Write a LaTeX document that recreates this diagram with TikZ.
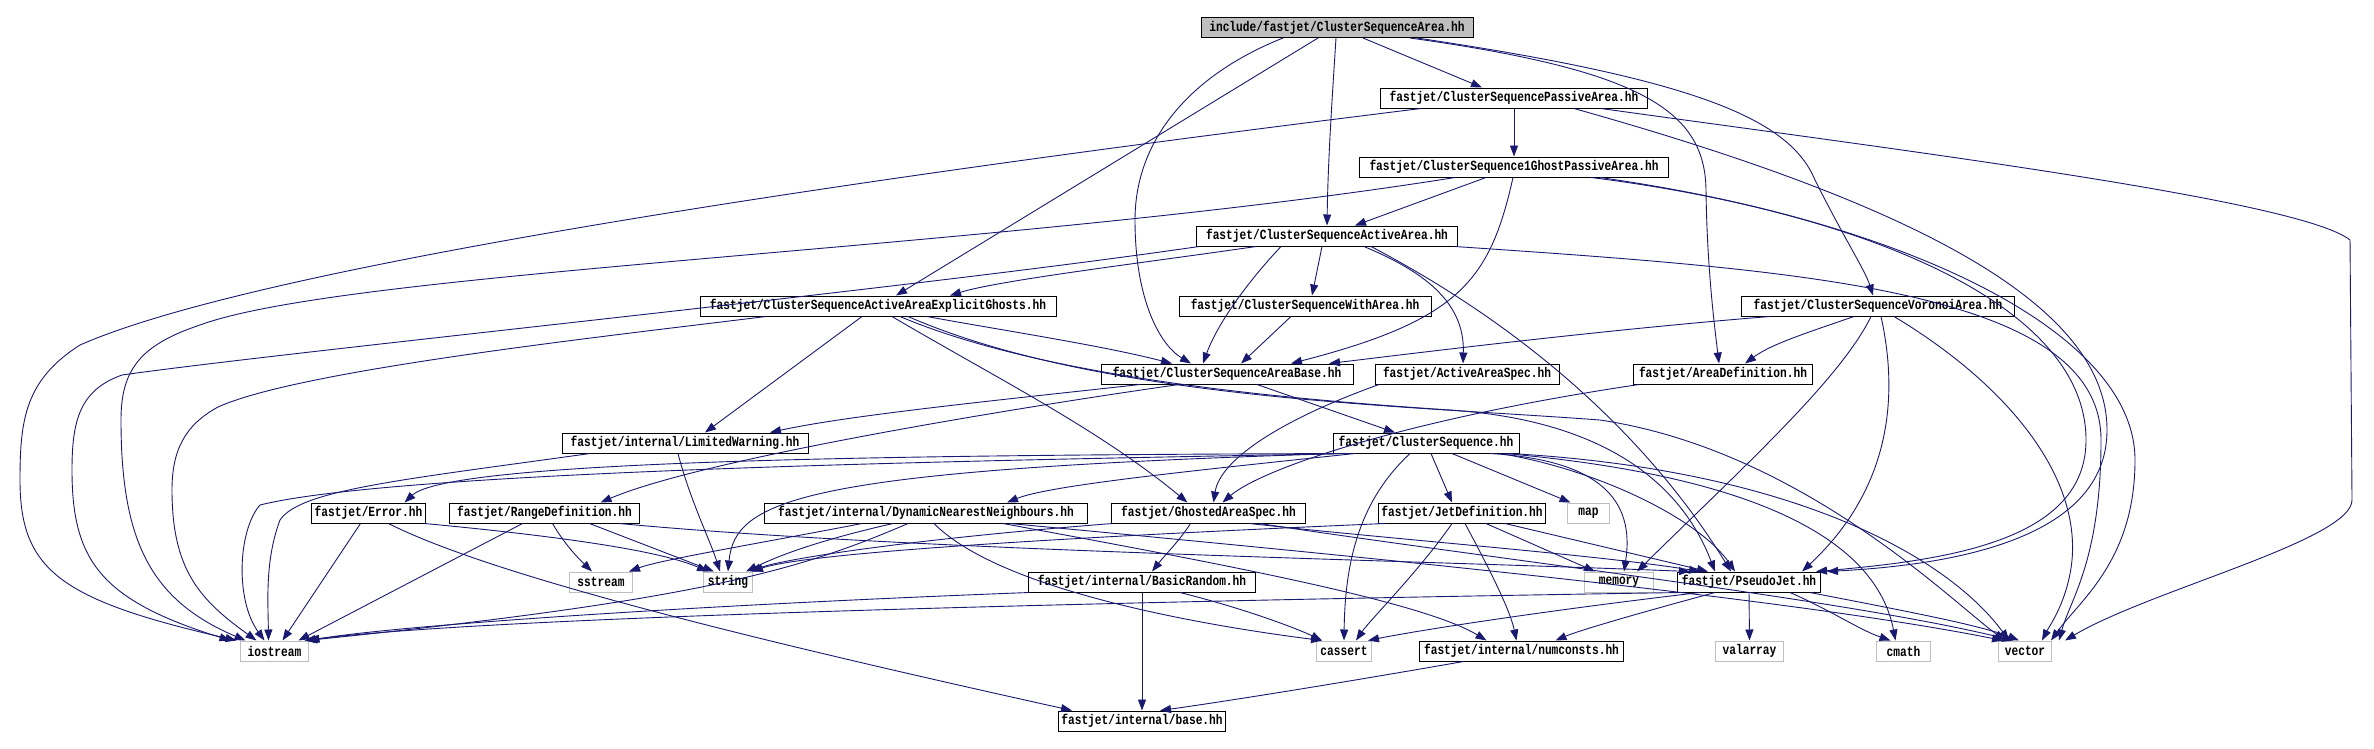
\documentclass[tikz,border=0pt]{standalone}
\usepackage{fontspec}
\usetikzlibrary{arrows.meta}
\newfontfamily\nodefont{Liberation Mono}[FakeStretch=0.8]
\definecolor{edgec}{HTML}{191970}
\definecolor{sysgray}{HTML}{BFBFBF}
\definecolor{rootfill}{HTML}{BFBFBF}
\tikzset{
  box/.style={draw=black, fill=white, line width=1pt, minimum height=20pt, inner xsep=3pt, inner ysep=0pt,
              font=\nodefont\bfseries\fontsize{14}{14}\selectfont},
  sys/.style={box, draw=sysgray},
  edge/.style={draw=edgec, line width=0.9pt, -{Triangle[length=11pt,width=8pt]}},
}
\begin{document}
\begin{tikzpicture}[x=1pt,y=-1pt]
\useasboundingbox (0,0) rectangle (2374,748);
% nodes
\node[box, fill=rootfill, minimum width=272pt] (root) at (1337,27.5) {include/fastjet/ClusterSequenceArea.hh};
\node[box, minimum width=267pt] (passive) at (1514,98) {fastjet/ClusterSequencePassiveArea.hh};
\node[box, minimum width=309pt] (ghost1) at (1514,167) {fastjet/ClusterSequence1GhostPassiveArea.hh};
\node[box, minimum width=261pt] (active) at (1327,236) {fastjet/ClusterSequenceActiveArea.hh};
\node[box, minimum width=356pt] (explicit) at (878,306) {fastjet/ClusterSequenceActiveAreaExplicitGhosts.hh};
\node[box, minimum width=252pt] (witharea) at (1305,306) {fastjet/ClusterSequenceWithArea.hh};
\node[box, minimum width=273pt] (voronoi) at (1878,306) {fastjet/ClusterSequenceVoronoiArea.hh};
\node[box, minimum width=252pt] (areabase) at (1227,374) {fastjet/ClusterSequenceAreaBase.hh};
\node[box, minimum width=184pt] (activespec) at (1467,374) {fastjet/ActiveAreaSpec.hh};
\node[box, minimum width=179pt] (areadef) at (1723,374) {fastjet/AreaDefinition.hh};
\node[box, minimum width=246pt] (limited) at (685,443) {fastjet/internal/LimitedWarning.hh};
\node[box, minimum width=186pt] (cseq) at (1426,443) {fastjet/ClusterSequence.hh};
\node[box, minimum width=114pt] (error) at (368.5,513) {fastjet/Error.hh};
\node[box, minimum width=190pt] (rangedef) at (544.5,513) {fastjet/RangeDefinition.hh};
\node[box, minimum width=323pt] (dnn) at (926,513) {fastjet/internal/DynamicNearestNeighbours.hh};
\node[box, minimum width=194pt] (ghosted) at (1208.5,513) {fastjet/GhostedAreaSpec.hh};
\node[box, minimum width=164pt] (jetdef) at (1462,513) {fastjet/JetDefinition.hh};
\node[sys, minimum width=42pt] (map) at (1588.5,513) {map};
\node[sys, minimum width=63pt] (sstream) at (601,582) {sstream};
\node[sys, minimum width=49pt] (string) at (728,582) {string};
\node[box, minimum width=227pt] (basicrandom) at (1142,582) {fastjet/internal/BasicRandom.hh};
\node[sys, minimum width=69pt] (memory) at (1619,582) {memory};
\node[box, minimum width=143pt] (pseudojet) at (1749,582) {fastjet/PseudoJet.hh};
\node[sys, minimum width=68pt] (iostream) at (274.5,651) {iostream};
\node[sys, minimum width=55pt] (cassert) at (1344,651) {cassert};
\node[box, minimum width=204pt] (numconsts) at (1521.5,651) {fastjet/internal/numconsts.hh};
\node[sys, minimum width=68pt] (valarray) at (1749.5,651) {valarray};
\node[sys, minimum width=54pt] (cmath) at (1903.5,651) {cmath};
\node[sys, minimum width=53pt] (vector) at (2025,651) {vector};
\node[box, minimum width=163pt] (base) at (1142,721) {fastjet/internal/base.hh};

% root
\draw[edge] ([xshift=26pt]root.south) -- ([xshift=-32pt]passive.north);
\draw[edge] ([xshift=-1pt]root.south) .. controls (1332,100) and (1328,160) .. (active.north);
\draw[edge] ([xshift=-19pt]root.south) -- ([xshift=18pt]explicit.north);
\draw[edge] ([xshift=-54pt]root.south) .. controls (1190,75) and (1135,140) .. (1135,220) .. controls (1135,300) and (1160,345) .. ([xshift=-36pt]areabase.north);
\draw[edge] ([xshift=73pt]root.south) .. controls (1640,70) and (1705,110) .. (1706,190) .. controls (1707,270) and (1715,330) .. ([xshift=-4pt]areadef.north);
\draw[edge] ([xshift=80pt]root.south) .. controls (1700,80) and (1790,120) .. (1815,180) .. controls (1845,240) and (1865,270) .. ([xshift=-5pt]voronoi.north);
% passive
\draw[edge] (passive.south) -- (ghost1.north);
\draw[edge] ([xshift=-93pt]passive.south) .. controls (800,185) and (250,270) .. (80,345) .. controls (25,380) and (20,420) .. (20,480) .. controls (20,570) and (60,600) .. ([xshift=-38pt]iostream.north);
\draw[edge] ([xshift=60pt]passive.south) .. controls (1900,200) and (2107,300) .. (2107,430) .. controls (2107,540) and (1950,565) .. ([xshift=78pt]pseudojet.north);
\draw[edge] ([xshift=87pt]passive.south) .. controls (1900,150) and (2300,200) .. (2350,240) -- (2352,500) .. controls (2352,540) and (2150,590) .. ([xshift=40pt]vector.north);
% ghost1
\draw[edge] ([xshift=-28pt]ghost1.south) -- ([xshift=28pt]active.north);
\draw[edge] ([xshift=-1pt]ghost1.south) .. controls (1490,280) and (1460,320) .. ([xshift=64pt]areabase.north);
\draw[edge] ([xshift=-59pt]ghost1.south) .. controls (1000,250) and (350,270) .. (200,325) .. controls (140,345) and (121,370) .. (121,420) .. controls (121,540) and (150,600) .. ([xshift=-29pt]iostream.north);
\draw[edge] ([xshift=77pt]ghost1.south) .. controls (1850,210) and (2086,300) .. (2086,440) .. controls (2086,540) and (1950,560) .. ([xshift=67pt]pseudojet.north);
\draw[edge] ([xshift=86pt]ghost1.south) .. controls (1900,220) and (2135,330) .. (2135,460) .. controls (2135,560) and (2080,600) .. ([xshift=26pt]vector.north);
% active
\draw[edge] ([xshift=-71pt]active.south) .. controls (1150,262) and (1000,280) .. ([xshift=72pt]explicit.north);
\draw[edge] ([xshift=-128pt]active.south) .. controls (900,290) and (300,350) .. (122,375) .. controls (80,390) and (72,420) .. (72,470) .. controls (72,560) and (100,600) .. ([xshift=-44pt]iostream.north);
\draw[edge] ([xshift=-5pt]active.south) -- ([xshift=7pt]witharea.north);
\draw[edge] ([xshift=-46pt]active.south) .. controls (1240,290) and (1215,330) .. ([xshift=-24pt]areabase.north);
\draw[edge] ([xshift=37pt]active.south) .. controls (1420,270) and (1465,300) .. ([xshift=-4pt]activespec.north);
\draw[edge] ([xshift=44pt]active.south) .. controls (1530,330) and (1650,440) .. ([xshift=-18pt]pseudojet.north);
\draw[edge] ([xshift=128pt]active.south) .. controls (1800,270) and (2101,290) .. (2101,440) .. controls (2101,560) and (2070,600) .. ([xshift=34pt]vector.north);
% explicit
\draw[edge] ([xshift=-16pt]explicit.south) -- ([xshift=20pt]limited.north);
\draw[edge] ([xshift=14pt]explicit.south) .. controls (1000,380) and (1100,430) .. ([xshift=-21pt]ghosted.north);
\draw[edge] ([xshift=49pt]explicit.south) .. controls (1000,330) and (1100,345) .. ([xshift=-55pt]areabase.north);
\draw[edge] ([xshift=22pt]explicit.south) .. controls (1050,380) and (1300,400) .. (1450,410) .. controls (1600,420) and (1680,480) .. ([xshift=-34pt]pseudojet.north);
\draw[edge] ([xshift=30pt]explicit.south) .. controls (1100,400) and (1400,405) .. (1600,420) .. controls (1800,450) and (1950,600) .. ([xshift=-20pt]vector.north);
\draw[edge] ([xshift=-112pt]explicit.south) .. controls (600,337) and (300,370) .. (218,407) .. controls (185,425) and (172,450) .. (172,490) .. controls (172,570) and (200,600) .. ([xshift=-18pt]iostream.north);
% witharea
\draw[edge] ([xshift=-14pt]witharea.south) -- ([xshift=14pt]areabase.north);
% voronoi
\draw[edge] ([xshift=-108pt]voronoi.south) .. controls (1600,330) and (1400,355) .. ([xshift=102pt]areabase.north);
\draw[edge] ([xshift=-24pt]voronoi.south) .. controls (1800,335) and (1770,345) .. ([xshift=22pt]areadef.north);
\draw[edge] ([xshift=-7pt]voronoi.south) .. controls (1840,380) and (1740,470) .. ([xshift=18pt]memory.north);
\draw[edge] ([xshift=3pt]voronoi.south) .. controls (1895,380) and (1900,480) .. ([xshift=53pt]pseudojet.north);
\draw[edge] ([xshift=16pt]voronoi.south) .. controls (2000,380) and (2080,470) .. (2072,560) .. controls (2068,600) and (2050,625) .. ([xshift=17pt]vector.north);
% areabase
\draw[edge] ([xshift=30pt]areabase.south) -- ([xshift=-31pt]cseq.north);
\draw[edge] ([xshift=-87pt]areabase.south) .. controls (1000,400) and (850,415) .. ([xshift=85pt]limited.north);
\draw[edge] ([xshift=-48pt]areabase.south) .. controls (1000,410) and (700,460) .. ([xshift=56pt]rangedef.north);
% activespec, areadef
\draw[edge] ([xshift=-88pt]activespec.south) .. controls (1280,420) and (1220,460) .. ([xshift=5pt]ghosted.north);
\draw[edge] ([xshift=-84pt]areadef.south) .. controls (1400,420) and (1260,470) .. ([xshift=14pt]ghosted.north);
% limited
\draw[edge] ([xshift=-7pt]limited.south) .. controls (690,500) and (710,540) .. ([xshift=-8pt]string.north);
\draw[edge] ([xshift=-95pt]limited.south) .. controls (400,480) and (300,490) .. (280,520) .. controls (265,560) and (268,600) .. ([xshift=-6pt]iostream.north);
% cseq
\draw[edge] ([xshift=-76pt]cseq.south) .. controls (1000,460) and (400,470) .. (260,505) .. controls (238,530) and (235,600) .. ([xshift=-10pt]iostream.north);
\draw[edge] ([xshift=-81pt]cseq.south) .. controls (900,455) and (450,460) .. ([xshift=36pt]error.north);
\draw[edge] ([xshift=-71pt]cseq.south) .. controls (1200,470) and (1050,485) .. ([xshift=81pt]dnn.north);
\draw[edge] ([xshift=-86pt]cseq.south) .. controls (800,470) and (735,500) .. (string.north);
\draw[edge] ([xshift=-16pt]cseq.south) .. controls (1360,500) and (1345,560) .. (cassert.north);
\draw[edge] ([xshift=5pt]cseq.south) -- ([xshift=-10pt]jetdef.north);
\draw[edge] ([xshift=26pt]cseq.south) -- ([xshift=-18pt]map.north);
\draw[edge] ([xshift=64pt]cseq.south) .. controls (1600,460) and (1635,500) .. ([xshift=5pt]memory.north);
\draw[edge] ([xshift=74pt]cseq.south) .. controls (1600,470) and (1700,520) .. ([xshift=-14pt]pseudojet.north);
\draw[edge] ([xshift=79pt]cseq.south) .. controls (1800,480) and (1880,560) .. ([xshift=-8pt]cmath.north);
\draw[edge] ([xshift=84pt]cseq.south) .. controls (1800,470) and (1950,560) .. ([xshift=-16pt]vector.north);
% error
\draw[edge] ([xshift=-8pt]error.south) -- ([xshift=8pt]iostream.north);
\draw[edge] ([xshift=20pt]error.south) .. controls (500,580) and (800,650) .. ([xshift=-70pt]base.north);
\draw[edge] ([xshift=56pt]error.south) .. controls (600,540) and (670,555) .. ([xshift=-20pt]string.north);
% rangedef
\draw[edge] ([xshift=-22pt]rangedef.south) -- ([xshift=24pt]iostream.north);
\draw[edge] ([xshift=8pt]rangedef.south) .. controls (565,545) and (580,560) .. ([xshift=-9pt]sstream.north);
\draw[edge] ([xshift=45pt]rangedef.south) -- ([xshift=-14pt]string.north);
\draw[edge] ([xshift=75pt]rangedef.south) .. controls (900,550) and (1400,560) .. ([xshift=-59pt]pseudojet.north);
% dnn
\draw[edge] ([xshift=-64pt]dnn.south) .. controls (750,545) and (660,560) .. ([xshift=28pt]sstream.north);
\draw[edge] ([xshift=-33pt]dnn.south) .. controls (820,540) and (780,555) .. ([xshift=18pt]string.north);
\draw[edge] ([xshift=-18pt]dnn.south) .. controls (800,570) and (700,600) .. ([xshift=32pt]iostream.north);
\draw[edge] ([xshift=8pt]dnn.south) .. controls (1000,590) and (1200,625) .. ([xshift=-22pt]cassert.north);
\draw[edge] ([xshift=77pt]dnn.south) .. controls (1200,560) and (1420,600) .. ([xshift=-35pt]numconsts.north);
\draw[edge] ([xshift=84pt]dnn.south) .. controls (1400,560) and (1800,600) .. ([xshift=-22pt]vector.north);
% ghosted
\draw[edge] ([xshift=-18pt]ghosted.south) .. controls (1180,540) and (1165,555) .. ([xshift=10pt]basicrandom.north);
\draw[edge] ([xshift=-96pt]ghosted.south) .. controls (900,540) and (780,560) .. ([xshift=22pt]string.north);
\draw[edge] ([xshift=41pt]ghosted.south) .. controls (1400,540) and (1600,555) .. ([xshift=-49pt]pseudojet.north);
\draw[edge] ([xshift=51pt]ghosted.south) .. controls (1500,560) and (1850,600) .. ([xshift=-12pt]vector.north);
% jetdef
\draw[edge] ([xshift=-10pt]jetdef.south) .. controls (1420,570) and (1370,620) .. ([xshift=12pt]cassert.north);
\draw[edge] ([xshift=3pt]jetdef.south) .. controls (1490,570) and (1510,610) .. ([xshift=-5pt]numconsts.north);
\draw[edge] ([xshift=24pt]jetdef.south) -- ([xshift=-24pt]memory.north);
\draw[edge] ([xshift=43pt]jetdef.south) -- ([xshift=-41pt]pseudojet.north);
\draw[edge] ([xshift=-77pt]jetdef.south) .. controls (1000,540) and (800,555) .. ([xshift=24pt]string.north);
% basicrandom
\draw[edge] (basicrandom.south) -- (base.north);
\draw[edge] ([xshift=-113pt]basicrandom.south) .. controls (700,605) and (400,625) .. ([xshift=34pt]iostream.north);
\draw[edge] ([xshift=38pt]basicrandom.south) .. controls (1250,610) and (1300,630) .. ([xshift=-22pt]cassert.north);
% pseudojet
\draw[edge] ([xshift=-68pt]pseudojet.south) .. controls (1200,600) and (500,615) .. ([xshift=30pt]iostream.north);
\draw[edge] ([xshift=-49pt]pseudojet.south) .. controls (1550,610) and (1420,630) .. ([xshift=24pt]cassert.north);
\draw[edge] ([xshift=-34pt]pseudojet.south) .. controls (1650,610) and (1580,630) .. ([xshift=34pt]numconsts.north);
\draw[edge] (pseudojet.south) -- (valarray.north);
\draw[edge] ([xshift=41pt]pseudojet.south) .. controls (1830,610) and (1860,630) .. ([xshift=-13pt]cmath.north);
\draw[edge] ([xshift=61pt]pseudojet.south) .. controls (1900,610) and (1980,625) .. ([xshift=-6pt]vector.north);
% numconsts
\draw[edge] ([xshift=-58pt]numconsts.south) .. controls (1300,690) and (1200,705) .. ([xshift=18pt]base.north);
\end{tikzpicture}
\end{document}
